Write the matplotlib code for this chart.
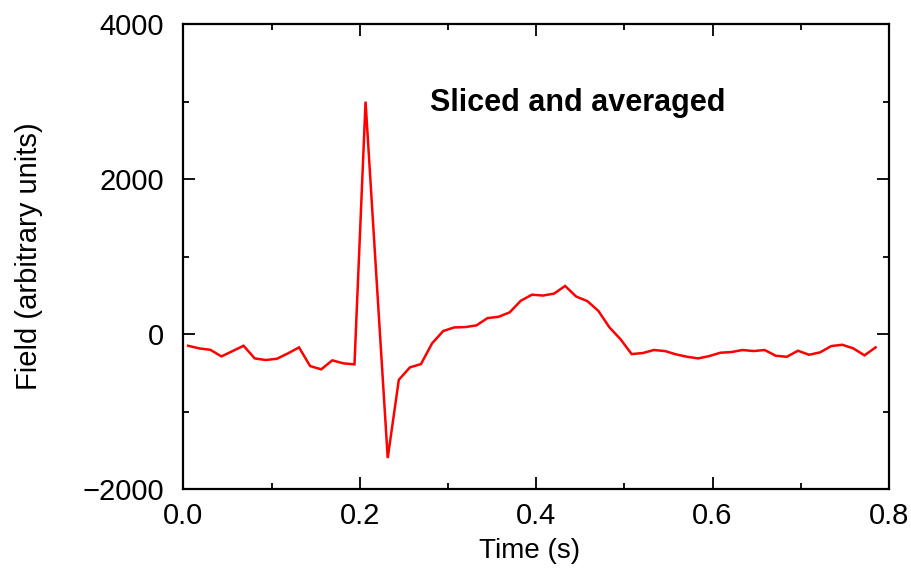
import numpy as np
import matplotlib
matplotlib.use("Agg")
import matplotlib.pyplot as plt
from matplotlib.ticker import MultipleLocator, FormatStrFormatter

plt.rcParams['font.family'] = ['Liberation Sans', 'DejaVu Sans']

# Sample times (s): uniform sampling grid of the sliced signal
t_start = 0.0055
t_step = 0.01257
field = [
    -151, -185, -203, -288, -220, -151, -314, -335, -319, -249,
    -172, -413, -455, -339, -378, -391, 3000, 690, -1600, -590,
    -430, -387, -120, 39, 86, 90, 112, 206, 223, 280,
    430, 508, 497, 522, 621, 484, 426, 299, 86, -67,
    -258, -245, -206, -219, -262, -293, -314, -284, -241, -232,
    -206, -219, -206, -280, -293, -215, -267, -236, -155, -138,
    -185, -275, -172,
]
time = t_start + t_step * np.arange(len(field))

x_ticks = [0.0, 0.2, 0.4, 0.6, 0.8]
y_ticks = [-2000, 0, 2000, 4000]

fig = plt.figure(figsize=(9.12, 5.74), dpi=100)
ax = fig.add_axes([0.201, 0.148, 0.7737, 0.810])

ax.plot(time, field, color='#ff0000', lw=1.8, solid_joinstyle='miter')

ax.set_xlim(0.0, 0.8)
ax.set_ylim(-2000, 4000)
ax.set_xticks(x_ticks)
ax.set_yticks(y_ticks)
ax.xaxis.set_major_formatter(FormatStrFormatter('%.1f'))
ax.xaxis.set_minor_locator(MultipleLocator(0.1))
ax.yaxis.set_minor_locator(MultipleLocator(1000))

for s in ax.spines.values():
    s.set_linewidth(1.6)
ax.tick_params(which='both', direction='in', top=True, right=True, width=1.3,
               labelsize=21)
ax.tick_params(axis='y', pad=14)
ax.tick_params(axis='x', pad=9)
ax.tick_params(which='major', length=8.5)
ax.tick_params(which='minor', length=4)

ax.set_xlabel('Time (s)', fontsize=20, labelpad=8)
ax.xaxis.set_label_coords(0.491, -0.105)
ax.set_ylabel('Field (arbitrary units)', fontsize=21, labelpad=28)

ax.text(0.4475, 2980, 'Sliced and averaged', fontsize=22, fontweight='bold',
        ha='center', va='center')

fig.savefig('out.png', dpi=100)
